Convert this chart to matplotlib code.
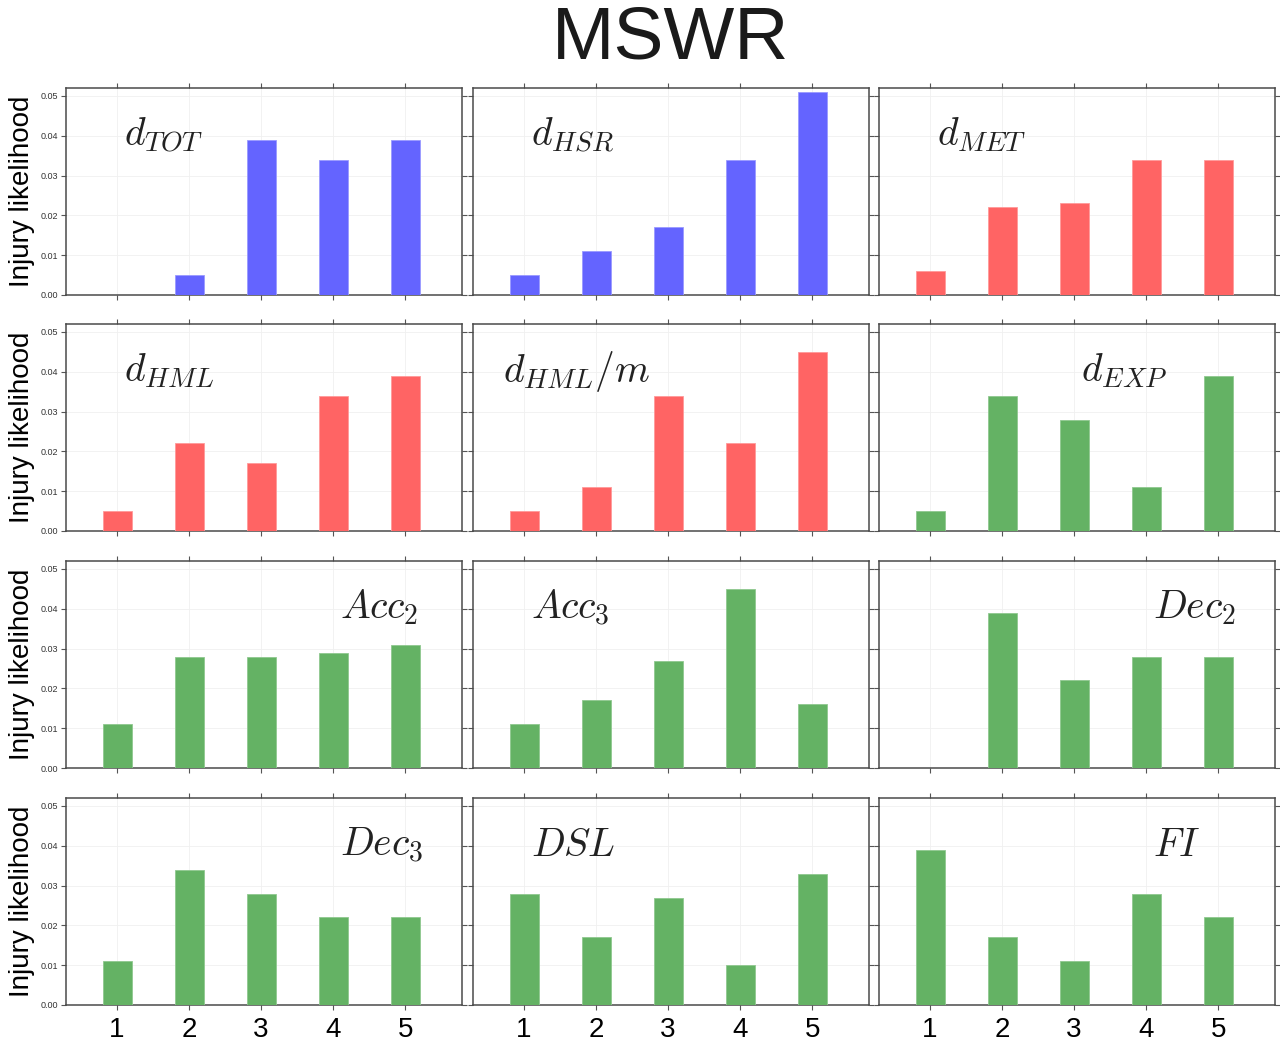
import matplotlib
matplotlib.use("Agg")
import matplotlib.pyplot as plt

plt.rcParams['font.family'] = ['Liberation Sans', 'DejaVu Sans']
plt.rcParams['mathtext.fontset'] = 'cm'

# Injury likelihood per quintile (1..5) for each workload feature
quintiles = [1, 2, 3, 4, 5]
tick_labels = ["1", "2", "3", "4", "5"]

d_tot = [0.0, 0.005, 0.039, 0.034, 0.039]
d_hsr = [0.005, 0.011, 0.017, 0.034, 0.051]
d_met = [0.006, 0.022, 0.023, 0.034, 0.034]
d_hml = [0.005, 0.022, 0.017, 0.034, 0.039]
d_hml_m = [0.005, 0.011, 0.034, 0.022, 0.045]
d_exp = [0.005, 0.034, 0.028, 0.011, 0.039]
acc2 = [0.011, 0.028, 0.028, 0.029, 0.031]
acc3 = [0.011, 0.017, 0.027, 0.045, 0.016]
dec2 = [0.0, 0.039, 0.022, 0.028, 0.028]
dec3 = [0.011, 0.034, 0.028, 0.022, 0.022]
dsl = [0.028, 0.017, 0.027, 0.010, 0.033]
fi = [0.039, 0.017, 0.011, 0.028, 0.022]

feature_names = [r"$d_{TOT}$", r"$d_{HSR}$", r"$d_{MET}$",
                 r"$d_{HML}$", r"$d_{HML}/m$", r"$d_{EXP}$",
                 r"$Acc_2$", r"$Acc_3$", r"$Dec_2$",
                 r"$Dec_3$", r"$DSL$", r"$FI$"]
feature_values = [d_tot, d_hsr, d_met, d_hml, d_hml_m, d_exp,
                  acc2, acc3, dec2, dec3, dsl, fi]
feature_groups = ["b", "b", "r", "r", "r", "g",
                  "g", "g", "g", "g", "g", "g"]

group_colors = {"b": "#6464ff", "r": "#ff6464", "g": "#64b264"}
edge_colors = {"b": "#9a9aff", "r": "#ff9a9a", "g": "#8fc88f"}

# label anchor (data x) for each panel
label_x = [1.1, 1.1, 1.1, 1.1, 0.7, 3.1, 4.1, 1.1, 4.1, 4.1, 1.1, 4.1]
label_y = 0.0375

fig = plt.figure(figsize=(12.8, 10.45), dpi=100)

col_left = [66 / 1280, 473 / 1280, 879 / 1280]
ax_w = 396 / 1280
row_bottom = [1 - 295 / 1045, 1 - 531 / 1045, 1 - 768 / 1045, 1 - 1005 / 1045]
ax_h = 207 / 1045

spine_color = "#4a4a4a"

for i, (name, vals, grp) in enumerate(zip(feature_names, feature_values, feature_groups)):
    r, c = divmod(i, 3)
    ax = fig.add_axes([col_left[c], row_bottom[r], ax_w, ax_h])
    ax.bar(quintiles, vals, width=0.4, color=group_colors[grp],
           edgecolor=edge_colors[grp], linewidth=0.6, zorder=3)
    ax.set_xlim(0.29, 5.79)
    ax.set_ylim(0, 0.052)
    ax.set_xticks(quintiles)
    ax.set_yticks([0.0, 0.01, 0.02, 0.03, 0.04, 0.05])
    ax.grid(True, color="#f0f0f0", linewidth=0.6, zorder=0)
    for s in ax.spines.values():
        s.set_color(spine_color)
        s.set_linewidth(1.1)
    ax.tick_params(axis="both", which="both", direction="out", length=3.5,
                   width=0.8, color="#555555", top=True, right=True)
    if c == 0:
        ax.set_yticklabels(["0.00", "0.01", "0.02", "0.03", "0.04", "0.05"],
                           fontsize=6.5, color="#333333")
        ax.tick_params(axis="y", pad=2)
        ax.set_ylabel("Injury likelihood", fontsize=20, labelpad=4)
    else:
        ax.set_yticklabels([])
    if r == 3:
        ax.set_xticklabels(tick_labels, fontsize=20)
        ax.tick_params(axis="x", pad=5)
    else:
        ax.set_xticklabels([])
    ax.text(label_x[i], label_y, name, fontsize=28.5, ha="left", va="baseline",
            color="#222222", zorder=4)

fig.text(0.524, 0.963, "MSWR", fontsize=54, ha="center", va="center", color="#1a1a1a")

fig.savefig("out.png", dpi=100)
